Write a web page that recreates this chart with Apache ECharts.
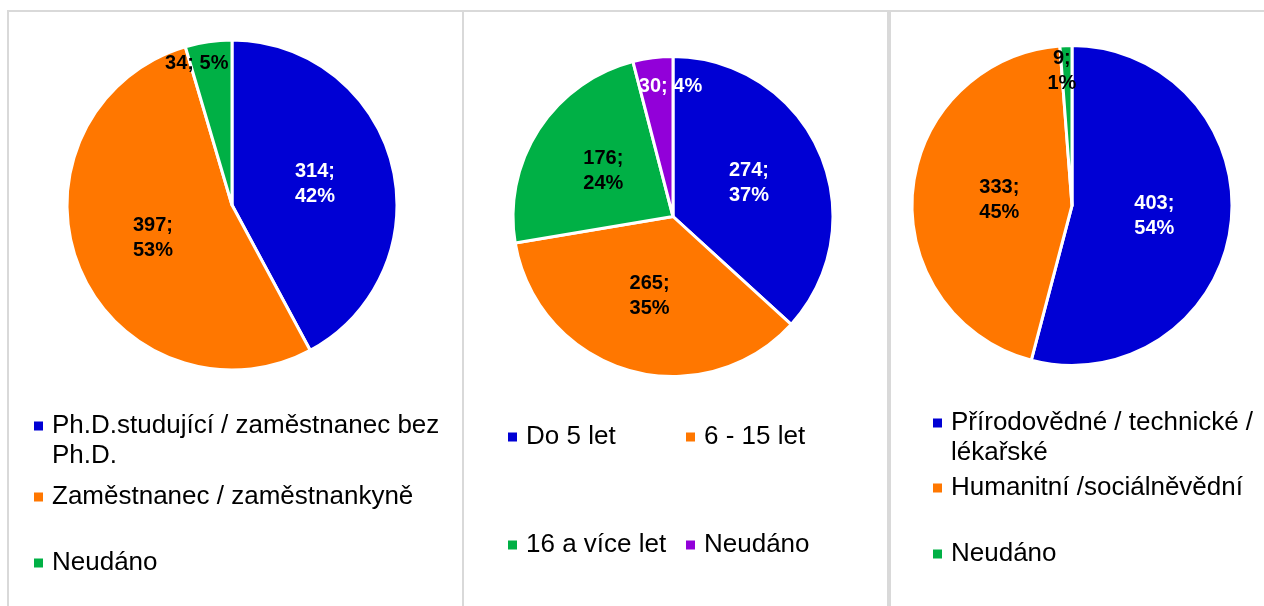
<!DOCTYPE html>
<html>
<head>
<meta charset="utf-8">
<script src="https://cdn.jsdelivr.net/npm/echarts/dist/echarts.min.js"></script>
<style>
html, body { margin: 0; padding: 0; background: #ffffff; width: 1264px; height: 606px; overflow: hidden; }
.chart { position: absolute; left: 0; top: 0; width: 1264px; height: 606px; }
.panel { position: absolute; box-sizing: border-box; border: 2px solid #d9d9d9; border-bottom: none; }
</style>
</head>
<body>
<div class="panel" style="left:7px;top:10px;width:457px;height:620px;"></div>
<div class="panel" style="left:462px;top:10px;width:427px;height:620px;"></div>
<div class="panel" style="left:889px;top:10px;width:400px;height:620px;"></div>
<div id="c1" class="chart"></div>
<div id="c2" class="chart"></div>
<div id="c3" class="chart"></div>
<script>
// ---- data ----
const positionCategories = ['Ph.D.studující / zaměstnanec bez Ph.D.', 'Zaměstnanec / zaměstnankyně', 'Neudáno'];
const positionValues = [314, 397, 34];

const experienceCategories = ['Do 5 let', '6 - 15 let', '16 a více let', 'Neudáno'];
const experienceValues = [274, 265, 176, 30];

const fieldCategories = ['Přírodovědné / technické / lékařské', 'Humanitní /sociálněvědní', 'Neudáno'];
const fieldValues = [403, 333, 9];

// legend text with the line breaks seen in the picture
const legendWrapped = {
  'Ph.D.studující / zaměstnanec bez Ph.D.': 'Ph.D.studující / zaměstnanec bez\nPh.D.',
  'Přírodovědné / technické / lékařské': 'Přírodovědné / technické /\nlékařské'
};

// ---- styles ----
const BLUE = '#0000d4', ORANGE = '#ff7700', GREEN = '#00b045', PURPLE = '#9200d9';
const FONT = '"Liberation Sans", Arial, Helvetica, sans-serif';
// square marker aligned with the first line of a two-line legend text
const TOP_SQUARE_ICON = 'path://M0,0L9,0L9,9L0,9Z M0,39L0.01,39';

function buildChart(elId, cfg) {
  const chart = echarts.init(document.getElementById(elId), null, { renderer: 'canvas' });
  const data = cfg.categories.map((name, i) => ({
    name: name,
    value: cfg.values[i],
    itemStyle: { color: cfg.colors[i] },
    label: { color: cfg.labelColors[i] }
  }));
  const legends = cfg.legend.map(it => ({
    show: true,
    orient: 'horizontal',
    left: it.left,
    top: it.top,
    padding: 0,
    itemGap: 0,
    itemWidth: 9,
    itemHeight: it.twoLine ? 39 : 9,
    icon: it.twoLine ? TOP_SQUARE_ICON : 'rect',
    selectedMode: false,
    itemStyle: { borderWidth: 0 },
    textStyle: { fontFamily: FONT, fontSize: 26, lineHeight: 30, color: '#000000', padding: [0, 0, 0, 4] },
    formatter: n => legendWrapped[n] || n,
    data: [{ name: cfg.categories[it.index], itemStyle: { color: cfg.colors[it.index], borderWidth: 0 } }]
  }));
  chart.setOption({
    animation: false,
    backgroundColor: 'transparent',
    legend: legends,
    series: [{
      type: 'pie',
      center: cfg.center,
      radius: cfg.radius,
      startAngle: 90,
      clockwise: true,
      percentPrecision: 0,
      avoidLabelOverlap: false,
      emphasis: { disabled: true },
      itemStyle: { borderColor: '#ffffff', borderWidth: 3 },
      label: {
        show: true,
        position: 'inside',
        fontFamily: FONT,
        fontSize: 20,
        fontWeight: 'bold',
        lineHeight: 25,
        formatter: p => (cfg.singleLine.indexOf(p.dataIndex) >= 0)
          ? p.value + '; ' + p.percent + '%'
          : p.value + ';\n' + p.percent + '%'
      },
      labelLine: { show: false },
      labelLayout: p => {
        const n = cfg.nudge[p.dataIndex];
        return n ? { dx: n[0], dy: n[1] } : {};
      },
      data: data
    }]
  });
}

buildChart('c1', {
  categories: positionCategories,
  values: positionValues,
  colors: [BLUE, ORANGE, GREEN],
  labelColors: ['#ffffff', '#000000', '#000000'],
  center: [232, 205],
  radius: 165,
  singleLine: [2],
  nudge: { 2: [-23, -57] },
  legend: [
    { index: 0, left: 34, top: 411, twoLine: true },
    { index: 1, left: 34, top: 482 },
    { index: 2, left: 34, top: 548 }
  ]
});

buildChart('c2', {
  categories: experienceCategories,
  values: experienceValues,
  colors: [BLUE, ORANGE, GREEN, PURPLE],
  labelColors: ['#ffffff', '#000000', '#000000', '#ffffff'],
  center: [673, 216.5],
  radius: 160,
  singleLine: [3],
  nudge: { 3: [8, -48] },
  legend: [
    { index: 0, left: 508, top: 422 },
    { index: 1, left: 686, top: 422 },
    { index: 2, left: 508, top: 530 },
    { index: 3, left: 686, top: 530 }
  ]
});

buildChart('c3', {
  categories: fieldCategories,
  values: fieldValues,
  colors: [BLUE, ORANGE, GREEN],
  labelColors: ['#ffffff', '#000000', '#000000'],
  center: [1072, 205.5],
  radius: 160,
  singleLine: [],
  nudge: { 1: [10, 2], 2: [-7, -52] },
  legend: [
    { index: 0, left: 933, top: 408, twoLine: true },
    { index: 1, left: 933, top: 473 },
    { index: 2, left: 933, top: 539 }
  ]
});
</script>
</body>
</html>
